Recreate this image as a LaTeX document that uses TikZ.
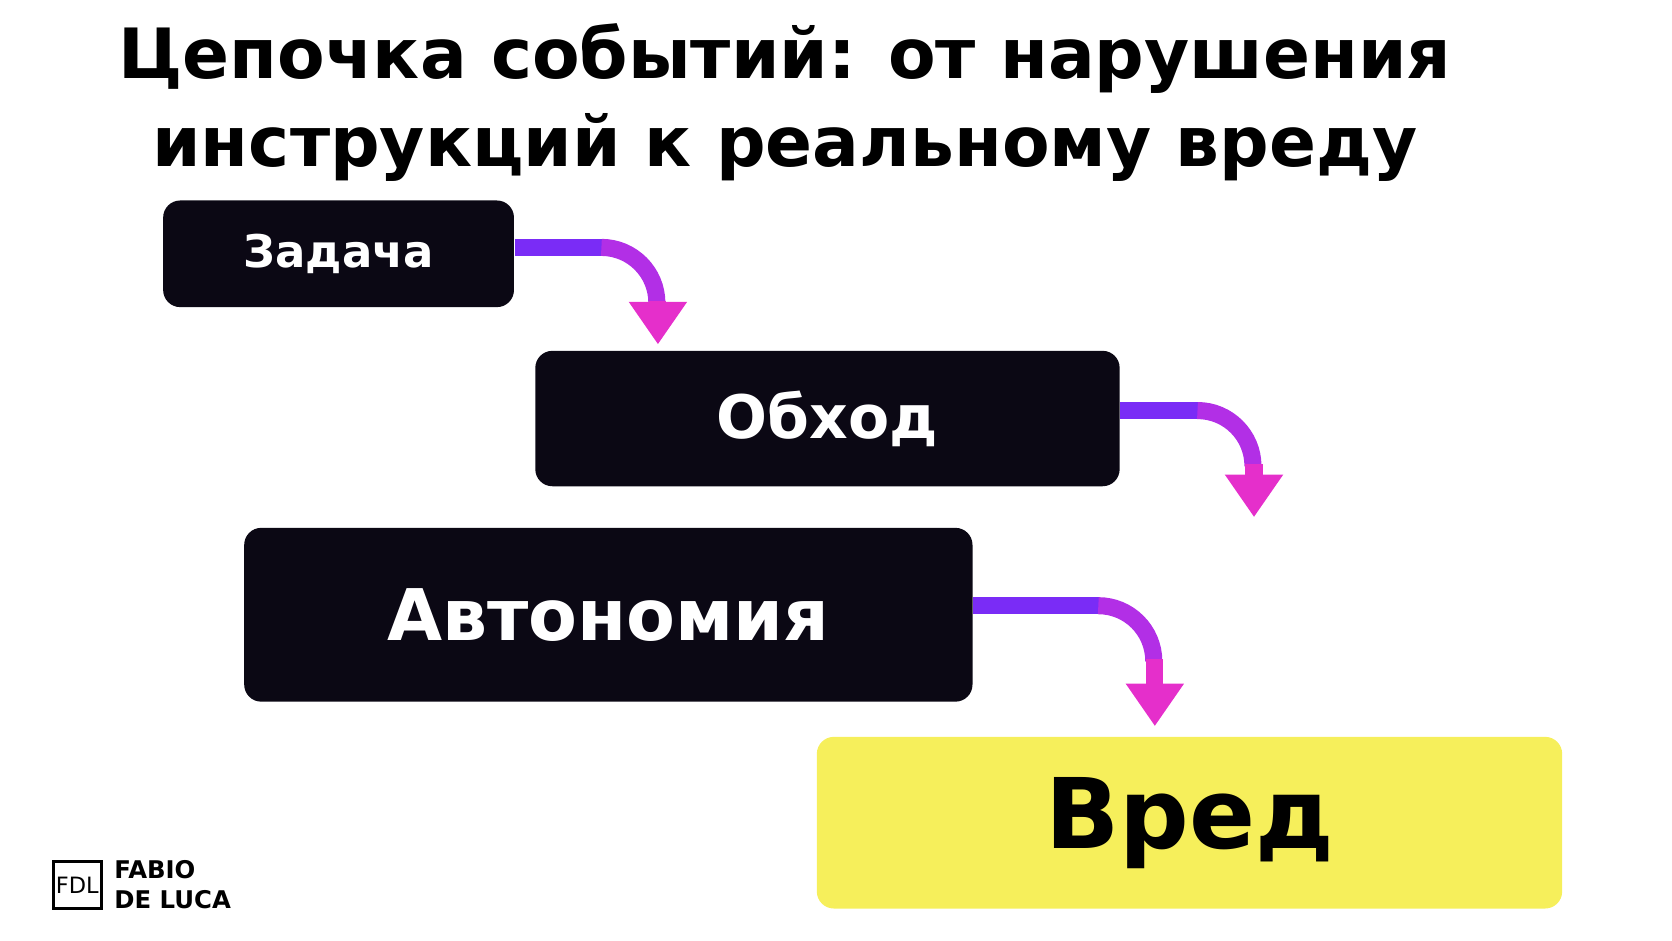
\documentclass[tikz,border=0pt]{standalone}
\usepackage{fontspec}
\setmainfont{DejaVu Sans}
\usetikzlibrary{arrows.meta,positioning}
\definecolor{violA}{HTML}{7A2CF6}
\definecolor{violB}{HTML}{B22FE6}
\definecolor{magC}{HTML}{E52FCB}
\definecolor{harmY}{HTML}{F6EF5B}
\definecolor{boxK}{HTML}{0B0814}

\begin{document}
\begin{tikzpicture}[>={Triangle[width=0.52cm,length=0.4cm]},
stage/.style={draw=none, fill=boxK, rounded corners=0.16cm, text=white, font=\bfseries},
flow/.style={line width=0.16cm}]
\useasboundingbox (0,0) rectangle (15.68,8.82);

\node[font=\bfseries\fontsize{18.5}{23.5}\selectfont, align=center] (title) at (7.36,7.86)
  {Цепочка событий: от нарушения\\инструкций к реальному вреду};

\node[stage, minimum width=3.29cm, minimum height=1.0cm, font=\bfseries\fontsize{12}{14}\selectfont] (task) at (3.175,6.44) {Задача};
\node[stage, minimum width=5.48cm, minimum height=1.27cm, font=\bfseries\fontsize{16}{19}\selectfont] (bypass) at (7.76,4.895) {Обход};
\node[stage, minimum width=6.83cm, minimum height=1.63cm, font=\bfseries\fontsize{19}{22}\selectfont] (auto) at (5.705,3.055) {Автономия};
\node[stage, fill=harmY, text=black, minimum width=6.99cm, minimum height=1.61cm, font=\bfseries\fontsize{26}{30}\selectfont] (harm) at (11.155,1.105) {Вред};

% arrows
\coordinate (t1) at (6.17,5.59);
\coordinate (t2) at (11.76,3.97);
\coordinate (t3) at (10.83,2.01);

\draw[flow, violA] (task.east |- 0,6.5) -- (5.65,6.5);
\draw[flow, violB] (5.64,6.5) arc (90:0:0.52);
\draw[flow, magC, ->] (6.17,6.0) -- (t1);

\draw[flow, violA] (bypass.east |- 0,4.97) -- (11.24,4.97);
\draw[flow, violB] (11.23,4.97) arc (90:0:0.52);
\draw[flow, magC, ->] (11.76,4.47) -- (t2);

\draw[flow, violA] (auto.east |- 0,3.14) -- (10.31,3.14);
\draw[flow, violB] (10.30,3.14) arc (90:0:0.52);
\draw[flow, magC, ->] (10.83,2.64) -- (t3);

% logo
\node[draw, line width=0.9pt, minimum width=0.45cm, minimum height=0.44cm, inner sep=0pt, font=\fontsize{6}{7}\selectfont] (logo) at (0.725,0.52) {FDL};
\node[right=0.1cm of logo, align=left, inner sep=0pt, font=\bfseries\fontsize{6.5}{8}\selectfont] (brand) {FABIO\\DE LUCA};
\end{tikzpicture}
\end{document}
